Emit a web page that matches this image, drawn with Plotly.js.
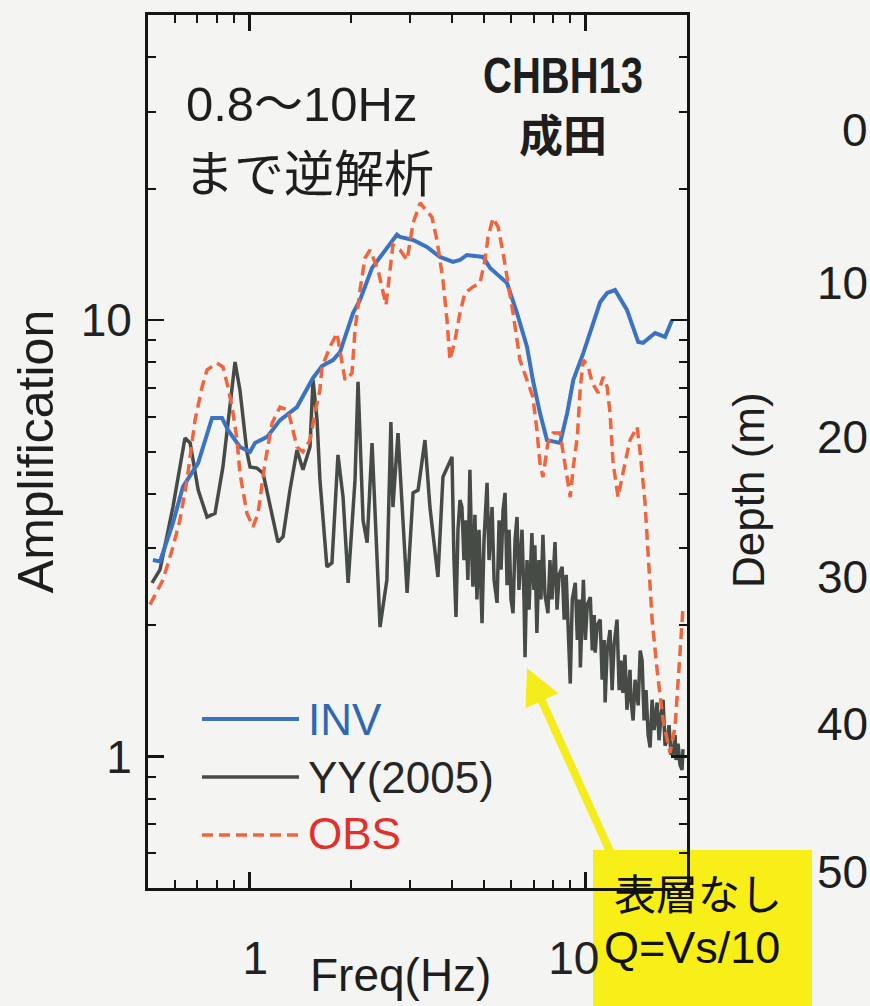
<!DOCTYPE html>
<html>
<head>
<meta charset="utf-8">
<script src="https://cdn.plot.ly/plotly-3.0.1.min.js"></script>
<style>
  html, body { margin: 0; padding: 0; background: #f4f5f3; }
  #chart { width: 870px; height: 1006px; }
</style>
</head>
<body>
<div id="chart"></div>
<script>
// ---- data ----
const invFreq = [0.517,0.543,0.593,0.635,0.705,0.775,0.830,0.864,0.938,1.005,1.040,1.130,1.234,1.386,1.547,1.645,1.773,1.861,2.034,2.134,2.317,2.533,2.748,2.806,3.068,3.373,3.687,4.031,4.229,4.434,4.952,5.196,5.565,5.837,6.249,6.692,6.965,7.309,7.669,8.394,8.811,9.184,9.841,10.53,11.04,11.58,12.22,13.26,14.32,14.81,16.08,17.21,18.06];
const invAmp  = [2.82,2.80,3.43,4.15,4.71,5.97,5.97,5.60,5.12,4.99,5.23,5.40,5.90,6.32,7.37,7.85,8.10,8.45,10.38,11.12,13.17,14.47,15.7,15.50,15.26,14.71,13.95,13.59,13.73,14.10,13.95,13.17,12.56,12.16,10.38,8.68,7.29,6.13,5.31,5.23,6.13,7.29,8.41,9.85,11.00,11.54,11.72,10.55,8.91,8.87,9.34,9.15,10.01];

const obsFreq = [0.507,0.554,0.593,0.622,0.653,0.690,0.724,0.749,0.802,0.835,0.864,0.889,0.920,0.938,0.984,1.026,1.062,1.114,1.169,1.234,1.304,1.386,1.444,1.515,1.568,1.622,1.645,1.737,1.822,1.926,2.020,2.062,2.134,2.208,2.286,2.414,2.549,2.673,2.806,2.945,3.068,3.219,3.490,3.612,3.764,3.869,3.949,4.087,4.229,4.374,4.621,4.850,5.021,5.125,5.304,5.489,5.680,5.837,6.081,6.377,6.692,6.965,7.159,7.309,7.462,7.722,7.994,8.394,8.570,8.811,8.996,9.184,9.441,9.640,9.841,10.18,10.46,10.89,11.27,11.58,11.81,12.06,12.48,12.90,13.54,14.22,14.52,15.01,15.33,15.75,16.30,16.98,17.81,18.43,19.07,19.46];
const obsAmp  = [2.23,2.54,3.02,3.48,4.30,5.90,7.03,7.69,7.97,7.81,7.03,6.32,5.31,4.46,3.61,3.36,3.61,4.71,5.81,6.32,6.22,5.12,4.99,5.31,6.13,6.92,7.81,8.68,9.34,7.29,7.56,9.49,11.72,13.88,14.47,13.02,10.83,14.86,14.47,13.73,16.69,18.55,17.22,15.26,12.36,10.01,8.10,9.00,10.38,11.54,11.91,12.16,13.73,15.50,17.13,16.34,14.25,12.56,10.38,8.10,7.29,6.67,5.60,4.71,4.37,5.23,5.51,5.51,4.96,4.30,3.93,4.61,5.40,7.03,8.10,7.81,7.18,6.81,7.41,7.03,6.13,4.71,3.93,4.46,5.31,5.69,4.96,3.81,2.93,2.06,1.58,1.21,1.02,1.17,1.73,2.20];

const yyFreq = [0.514,0.543,0.593,0.644,0.667,0.705,0.749,0.791,0.835,0.877,0.907,0.938,0.984,1.005,1.054,1.099,1.153,1.217,1.260,1.321,1.386,1.444,1.515,1.547,1.590,1.622,1.701,1.761,1.835,1.900,1.967,2.062,2.105,2.179,2.240,2.317,2.447,2.564,2.636,2.673,2.767,2.945,3.068,3.175,3.328,3.443,3.637,3.764,
  4.004,4.059,4.115,4.172,4.229,4.286,4.345,4.404,4.464,4.526,
  4.588,4.621,4.685,4.750,4.817,4.918,4.986,5.090,5.160,5.268,
  5.340,5.451,5.527,5.603,5.680,5.758,5.837,5.917,5.998,6.081,
  6.165,6.249,6.333,6.466,6.556,6.601,6.692,6.784,6.918,7.013,
  7.061,7.159,7.259,7.359,7.462,7.565,7.722,7.828,7.939,8.105,
  8.217,8.337,8.511,8.629,8.749,8.872,8.996,9.121,9.311,9.441,
  9.574,9.640,9.774,9.841,9.977,10.11,10.32,10.46,10.60,10.67,
  10.82,11.04,11.19,11.35,11.42,11.58,11.81,11.98,12.14,12.39,
  12.57,12.72,12.90,13.08,13.26,13.54,13.63,13.83,14.02,14.32,
  14.52,14.71,14.91,15.11,15.33,15.54,15.75,15.97,16.30,16.52,
  16.75,16.98,17.21,17.45,17.69,17.93,18.18,18.43,18.56,18.81,
  19.07,19.33,19.46];
const yyAmp = [2.50,2.68,3.73,5.37,5.23,4.08,3.54,3.61,4.61,6.32,8.02,6.92,4.99,4.61,4.58,4.46,3.73,3.10,3.19,4.08,5.04,4.54,5.12,7.29,5.90,4.30,2.72,2.78,4.91,3.93,2.50,4.30,7.22,3.48,3.09,5.23,1.98,2.54,5.84,3.73,5.51,2.37,4.02,4.08,5.31,3.73,2.58,4.37,
  4.86,2.82,2.09,3.31,3.87,3.73,2.82,3.48,2.54,4.54,
  2.82,2.45,3.58,2.29,3.31,2.02,3.14,4.24,2.82,3.73,
  2.54,2.25,3.48,2.68,3.67,4.02,2.47,3.31,2.29,2.13,
  3.14,3.54,2.41,3.31,2.29,1.69,2.82,2.17,3.25,2.41,
  3.05,1.92,2.82,2.29,3.22,2.35,2.13,2.82,2.29,3.10,
  2.17,2.61,2.72,2.06,2.61,1.85,1.47,2.29,2.50,1.85,
  2.29,1.60,2.17,2.54,1.85,2.23,2.32,1.75,2.11,1.73,
  2.00,2.06,1.50,1.85,1.33,1.75,1.95,1.42,1.80,2.06,
  1.42,1.66,1.40,1.71,1.28,1.58,1.35,1.21,1.50,1.31,
  1.75,1.66,1.21,1.42,1.12,1.05,1.35,1.15,1.33,1.09,
  1.25,1.35,1.06,1.09,1.18,1.01,1.02,1.12,0.982,1.07,
  0.957,0.932,1.04];

const xTickVals = [1, 10];
const xTickText = ['1', '10'];
const xMinorVals = [0.6, 0.7, 0.8, 0.9, 2, 3, 4, 5, 6, 7, 8, 9];
const yTickVals = [1, 10];
const yTickText = ['1', '10'];
const yMinorVals = [0.6, 0.7, 0.8, 0.9, 2, 3, 4, 5, 6, 7, 8, 9, 20, 30, 40];
const seriesNames = ['INV', 'YY(2005)', 'OBS'];
const depthLabels = ['0', '10', '20', '30', '40', '50'];

// ---- styling ----
const C_INV = '#3b73c2', C_YY = '#474b46', C_OBS = '#f0653e';
const BG = '#f4f5f3';
const SANS = 'Liberation Sans, Arial, sans-serif';
const JP = 'Noto Sans CJK JP, sans-serif';

// pixel helpers for decorations (plot area: x 148..687, y 15..888)
const L = 148, R = 687, T = 15, B = 888;
const px = v => (v - L) / (R - L);
const py = v => (B - v) / (B - T);

const traces = [
  { x: yyFreq, y: yyAmp, type: 'scatter', mode: 'lines', name: seriesNames[1],
    line: { color: C_YY, width: 3.5 }, showlegend: false },
  { x: invFreq, y: invAmp, type: 'scatter', mode: 'lines', name: seriesNames[0],
    line: { color: C_INV, width: 4 }, showlegend: false },
  { x: obsFreq, y: obsAmp, type: 'scatter', mode: 'lines', name: seriesNames[2],
    line: { color: C_OBS, width: 3.5, dash: '11px,6px' }, showlegend: false }
];

const annotations = [
  { xref: 'paper', yref: 'paper', x: px(184), y: py(104), xanchor: 'left', yanchor: 'middle',
    text: '0.8〜10Hz', showarrow: false, font: { family: SANS + ', Noto Sans CJK JP', size: 49, color: '#1e1e1e' } },
  { xref: 'paper', yref: 'paper', x: px(182), y: py(170), xanchor: 'left', yanchor: 'middle',
    text: 'まで逆解析', showarrow: false, font: { family: JP, size: 50, color: '#1e1e1e' } },
  { xref: 'paper', yref: 'paper', x: px(563), y: py(76), xanchor: 'center', yanchor: 'middle',
    text: '<b>CHBH13</b>', showarrow: false, font: { family: SANS, size: 50, color: '#1e1e1e' } },
  { xref: 'paper', yref: 'paper', x: px(563), y: py(133), xanchor: 'center', yanchor: 'middle',
    text: '<b>成田</b>', showarrow: false, font: { family: JP, size: 44, color: '#1e1e1e' } },
  // legend texts
  { xref: 'paper', yref: 'paper', x: px(306), y: py(719), xanchor: 'left', yanchor: 'middle',
    text: seriesNames[0], showarrow: false, font: { family: SANS, size: 44, color: '#2f68b0' } },
  { xref: 'paper', yref: 'paper', x: px(306), y: py(777), xanchor: 'left', yanchor: 'middle',
    text: seriesNames[1], showarrow: false, font: { family: SANS, size: 44, color: '#262626' } },
  { xref: 'paper', yref: 'paper', x: px(306), y: py(833), xanchor: 'left', yanchor: 'middle',
    text: seriesNames[2], showarrow: false, font: { family: SANS, size: 44, color: '#e2302c' } },
  // x title
  { xref: 'paper', yref: 'paper', x: px(400), y: py(975), xanchor: 'center', yanchor: 'middle',
    text: 'Freq(Hz)', showarrow: false, font: { family: SANS, size: 46, color: '#1e1e1e' } },
  // yellow note
  { xref: 'paper', yref: 'paper', x: px(612), y: py(891), xanchor: 'left', yanchor: 'middle',
    text: '表層なし', showarrow: false, font: { family: JP, size: 42, color: '#111' } },
  { xref: 'paper', yref: 'paper', x: px(602), y: py(947), xanchor: 'left', yanchor: 'middle',
    text: 'Q=Vs/10', showarrow: false, font: { family: SANS, size: 45, color: '#111' } },
  // yellow arrow
  { xref: 'paper', yref: 'paper', x: px(527), y: py(668), ax: 86, ay: 190, text: '',
    showarrow: true, arrowhead: 2, arrowsize: 0.9, arrowwidth: 8, arrowcolor: '#f4ec1c', standoff: 0 },
  // neighbouring chart remnants
  { xref: 'paper', yref: 'paper', x: px(748), y: py(490), xanchor: 'center', yanchor: 'middle', textangle: -90,
    text: 'Depth (m)', showarrow: false, font: { family: SANS, size: 44, color: '#1e1e1e' } }
];
const depthY = [130, 283, 437, 577, 724, 872];
depthLabels.forEach((t, i) => annotations.push({
  xref: 'paper', yref: 'paper', x: px(870), y: py(depthY[i]), xanchor: 'right', yanchor: 'middle',
  text: t, showarrow: false, font: { family: SANS, size: 46, color: '#1e1e1e' }
}));

const shapes = [
  { type: 'rect', xref: 'paper', yref: 'paper', x0: px(593), x1: px(812), y0: py(1020), y1: py(850),
    fillcolor: '#f8ee18', line: { width: 0 }, layer: 'below' },
  { type: 'line', xref: 'paper', yref: 'paper', x0: px(202), x1: px(299), y0: py(719), y1: py(719),
    line: { color: C_INV, width: 4 } },
  { type: 'line', xref: 'paper', yref: 'paper', x0: px(202), x1: px(299), y0: py(777), y1: py(777),
    line: { color: C_YY, width: 3.5 } },
  { type: 'line', xref: 'paper', yref: 'paper', x0: px(202), x1: px(299), y0: py(835), y1: py(835),
    line: { color: C_OBS, width: 3.5, dash: '11px,6px' } }
];

const axisCommon = {
  type: 'log', showline: true, linecolor: '#151515', linewidth: 3, mirror: 'ticks',
  ticks: 'inside', ticklen: 16, tickwidth: 2.5, tickcolor: '#151515',
  showgrid: false, zeroline: false,
  tickfont: { family: SANS, size: 46, color: '#222' }
};

const layout = {
  width: 870, height: 1006,
  margin: { l: L, r: 870 - R, t: T, b: 1006 - B, pad: 0 },
  paper_bgcolor: BG, plot_bgcolor: 'rgba(0,0,0,0)',
  showlegend: false,
  xaxis: Object.assign({}, axisCommon, {
    range: [Math.log10(0.5), Math.log10(20)],
    tickmode: 'array', tickvals: xTickVals, ticktext: xTickText,
    ticklabelstandoff: 28,
    minor: { tickmode: 'array', tickvals: xMinorVals, ticks: 'inside', ticklen: 8, tickwidth: 2, tickcolor: '#151515', showgrid: false },
    title: { text: '' }
  }),
  yaxis: Object.assign({}, axisCommon, {
    range: [Math.log10(0.5), Math.log10(50)],
    tickmode: 'array', tickvals: yTickVals, ticktext: yTickText,
    ticklabelstandoff: 4,
    minor: { tickmode: 'array', tickvals: yMinorVals, ticks: 'inside', ticklen: 8, tickwidth: 2, tickcolor: '#151515', showgrid: false },
    title: { text: 'Amplification', font: { family: SANS, size: 50, color: '#1e1e1e' }, standoff: 12 }
  }),
  annotations: annotations,
  shapes: shapes
};

Plotly.newPlot('chart', traces, layout, { staticPlot: true, displayModeBar: false }).then(function (gd) {
  // the reference uses a condensed bold face for the station code
  gd.querySelectorAll('text.annotation-text').forEach(function (t) {
    if (t.textContent === 'CHBH13') {
      t.style.transformBox = 'fill-box';
      t.style.transformOrigin = 'center';
      t.style.transform = 'scaleX(0.8)';
    }
  });
  // in the reference the x tick labels sit slightly off their ticks
  const nudge = { '1': 6, '10': -12 };
  gd.querySelectorAll('.xtick text').forEach(function (t) {
    const d = nudge[t.textContent];
    if (d !== undefined) {
      t.setAttribute('x', (parseFloat(t.getAttribute('x')) || 0) + d);
    }
  });
});
</script>
</body>
</html>
